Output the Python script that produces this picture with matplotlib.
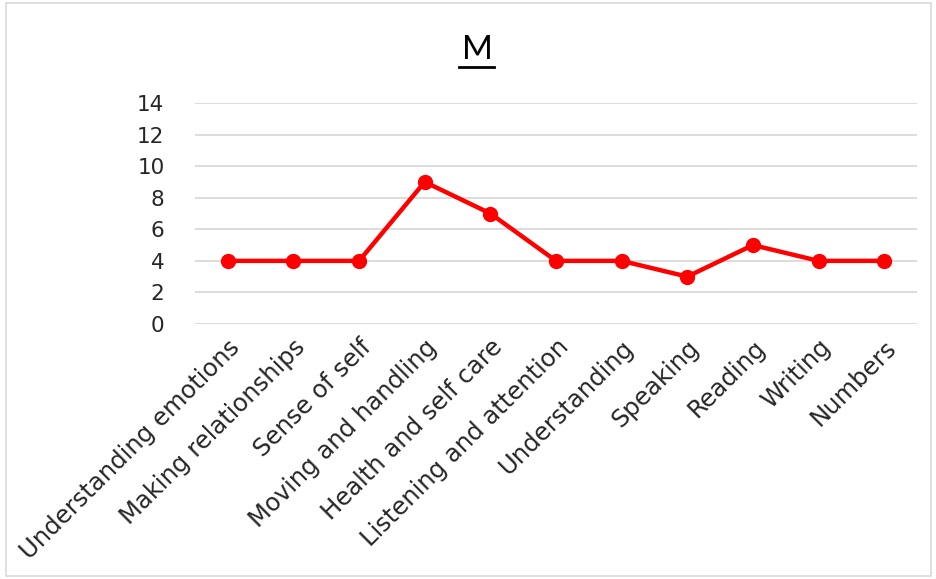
import matplotlib.pyplot as plt
from matplotlib.patches import Rectangle

plt.rcParams.update({
    "font.family": ["DejaVu Sans"],
    "font.size": 16,
})

categories = [
    "Understanding emotions", "Making relationships", "Sense of self",
    "Moving and handling", "Health and self care", "Listening and attention",
    "Understanding", "Speaking", "Reading", "Writing", "Numbers",
]
scores = [4, 4, 4, 9, 7, 4, 4, 3, 5, 4, 4]
y_ticks = [0, 2, 4, 6, 8, 10, 12, 14]

fig = plt.figure(figsize=(9.37, 5.79), dpi=100)
fig.patches.append(Rectangle((6 / 937, 3 / 579), 925 / 937, 573 / 579,
                             transform=fig.transFigure, fill=False,
                             edgecolor="#d9d9d9", lw=1.2))

ax = fig.add_axes([195 / 937, 255 / 579, 722 / 937, 221 / 579])
x = range(len(categories))
ax.plot(x, scores, color="#ff0000", lw=3.2, marker="o", markersize=10,
        solid_joinstyle="round", zorder=3)

ax.set_xlim(-0.5, len(categories) - 0.5)
ax.set_ylim(0, 14)
ax.set_yticks(y_ticks)
ax.set_xticks(list(x))
ax.set_xticklabels(categories, rotation=45, ha="right", va="top",
                   rotation_mode="anchor", fontsize=17.5)
ax.tick_params(length=0, pad=8, colors="#262626")
ax.tick_params(axis="y", pad=22, labelsize=15.5)
ax.grid(axis="y", color="#d9d9d9", lw=1.3)
ax.set_axisbelow(True)
for spine in ax.spines.values():
    spine.set_visible(False)

fig.text(477 / 937, 1 - 50 / 579, "M", ha="center", va="center",
         fontsize=24, color="#000000", family=["Lato", "DejaVu Sans"])
fig.add_artist(plt.Line2D([459 / 937, 494 / 937], [1 - 67 / 579, 1 - 67 / 579],
                          color="black", lw=2))

fig.savefig("out.png", dpi=100)
